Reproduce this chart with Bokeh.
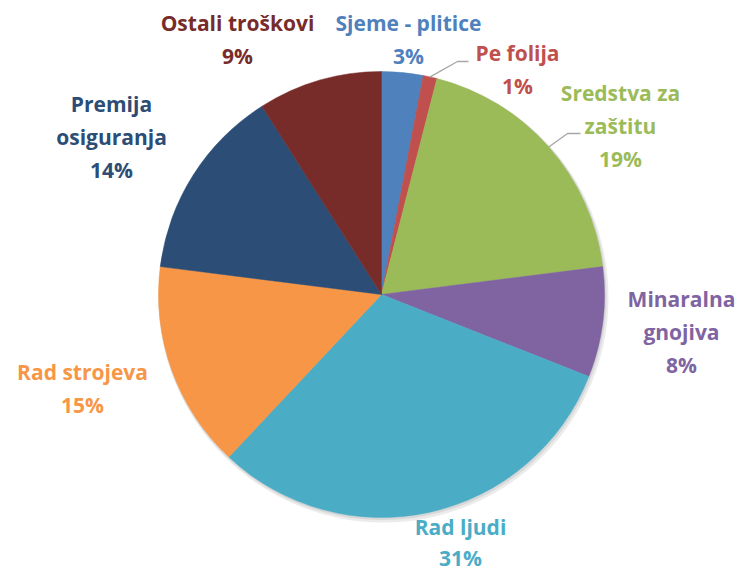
import math
from bokeh.plotting import figure
from bokeh.models import Range1d, ColumnDataSource
from bokeh.core.properties import value
from bokeh.embed import file_html
from bokeh.resources import INLINE

# ---- data ----
categories = ["Sjeme - plitice", "Pe folija", "Sredstva za zaštitu", "Minaralna gnojiva",
              "Rad ljudi", "Rad strojeva", "Premija osiguranja", "Ostali troškovi"]
shares = [3, 1, 19, 8, 31, 15, 14, 9]
colors = ["#4F81BD", "#C0504D", "#9BBB59", "#8064A2",
          "#4BACC6", "#F79646", "#2C4D75", "#772C2A"]
label_lines = [["Sjeme - plitice"], ["Pe folija"], ["Sredstva za", "zaštitu"],
               ["Minaralna", "gnojiva"], ["Rad ljudi"], ["Rad strojeva"],
               ["Premija", "osiguranja"], ["Ostali troškovi"]]

# ---- layout (pixel coordinates, y measured from top) ----
W, H = 739, 572
CX, CY, R = 381, 294, 223
label_pos = [(408, 22), (517, 52), (620, 92), (681, 298),
             (460, 526), (82, 371), (111, 103), (237, 22)]
LINE_GAP = 33
leaders = {1: [(457, 61), (468, 61)], 2: [(567, 133), (580, 133)]}

def fy(y):
    return H - y

p = figure(width=W, height=H, output_backend="svg", toolbar_location=None,
           x_range=Range1d(0, W), y_range=Range1d(0, H), min_border=0)
p.axis.visible = False
p.grid.visible = False
p.outline_line_color = None
p.background_fill_color = "white"

total = float(sum(shares))
starts, ends, mids = [], [], []
cum = 0.0
for s in shares:
    a0 = cum / total * 2 * math.pi
    cum += s
    a1 = cum / total * 2 * math.pi
    starts.append(math.pi / 2 - a0)
    ends.append(math.pi / 2 - a1)
    mids.append((a0 + a1) / 2)

# soft shadow
p.circle(x=[CX + 2], y=[fy(CY) - 3], radius=R + 2, fill_color="#000000",
         fill_alpha=0.08, line_color=None)
p.circle(x=[CX + 1], y=[fy(CY) - 1.5], radius=R + 1, fill_color="#000000",
         fill_alpha=0.08, line_color=None)

src = ColumnDataSource(dict(start=starts, end=ends, color=colors, cat=categories))
p.wedge(x=CX, y=fy(CY), radius=R, start_angle="start", end_angle="end",
        direction="clock", fill_color="color", line_color="color", line_width=0.5,
        source=src)

# leader lines
for i, pts in leaders.items():
    sx = CX + R * math.sin(mids[i])
    sy = CY - R * math.cos(mids[i])
    xs = [sx] + [q[0] for q in pts]
    ys = [fy(sy)] + [fy(q[1]) for q in pts]
    p.line(xs, ys, line_color="#A6A6A6", line_width=1.3)

# labels
tx, ty, tt, tc = [], [], [], []
for i, lines in enumerate(label_lines):
    x0, y0 = label_pos[i]
    all_lines = lines + [f"{shares[i]}%"]
    gap = 31 if i == 4 else LINE_GAP
    for k, ln in enumerate(all_lines):
        tx.append(x0)
        ty.append(fy(y0 + k * gap))
        tt.append(ln)
        tc.append(colors[i])
p.text(x=tx, y=ty, text=tt, text_color=tc, text_align="center",
       text_baseline="middle", text_font=value("Open Sans"), text_font_style="bold",
       text_font_size="21px")

open("out.html", "w").write(file_html(p, INLINE))
